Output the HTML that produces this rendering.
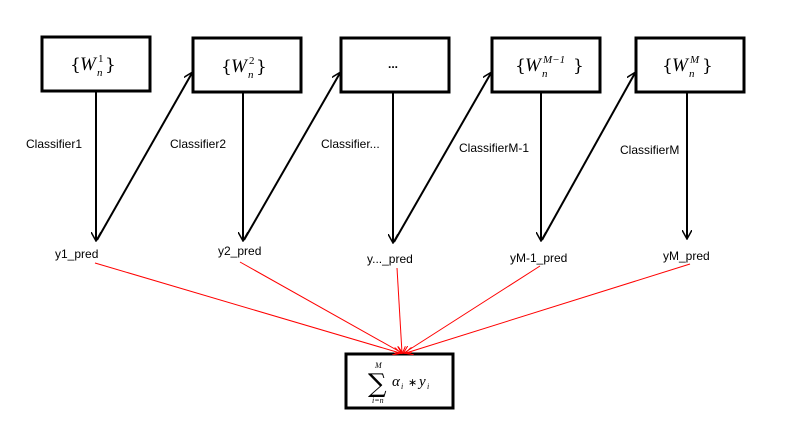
<!DOCTYPE html>
<html><head><style>
body{margin:0;background:#fff;width:809px;height:423px;overflow:hidden}
text{font-family:"Liberation Sans",sans-serif;font-size:12px;fill:#000}
.b{font-family:"DejaVu Serif",serif;font-size:17px}
.w{font-family:"Liberation Serif",serif;font-size:19px;font-style:italic}
.s{font-family:"Liberation Serif",serif;font-size:11px}
.si{font-family:"Liberation Serif",serif;font-size:11px;font-style:italic}
.sm{font-family:"Liberation Serif",serif;font-size:8px;font-style:italic}
.sg{font-family:"DejaVu Serif",serif;font-size:26px}
.al{font-family:"Liberation Serif",serif;font-size:15px;font-style:italic}
.st{font-family:"DejaVu Sans",sans-serif;font-size:11px}
</style></head><body>
<svg width="809" height="423" xmlns="http://www.w3.org/2000/svg">
<defs>
<marker id="a" markerWidth="10" markerHeight="10" refX="8" refY="5" orient="auto" markerUnits="userSpaceOnUse"><path d="M0,0 L9,5 L0,10" fill="none" stroke="#000" stroke-width="1.5"/></marker>
<marker id="r" markerWidth="8" markerHeight="8" refX="7" refY="4" orient="auto" markerUnits="userSpaceOnUse"><path d="M0,0 L8,4 L0,8" fill="none" stroke="#f00" stroke-width="1"/></marker>
</defs>
<g fill="#fff" stroke="#000" stroke-width="3">
<rect x="42" y="37" width="108" height="54"/>
<rect x="193" y="38" width="108" height="54"/>
<rect x="341" y="38" width="108" height="54"/>
<rect x="492" y="38" width="108" height="54"/>
<rect x="636" y="38" width="108" height="54"/>
<rect x="346" y="354" width="107" height="54"/>
</g>
<text class="b" x="70" y="70">{</text><text class="w" x="80" y="70">W</text>
<text class="s" x="98" y="62">1</text><text class="si" x="97" y="76">n</text>
<text class="b" x="105" y="70">}</text>
<text class="b" x="221" y="72">{</text><text class="w" x="231" y="72">W</text>
<text class="s" x="249" y="64">2</text><text class="si" x="248" y="78">n</text>
<text class="b" x="256" y="72">}</text>
<text x="388" y="68" font-weight="bold">...</text>
<text class="b" x="515" y="71">{</text><text class="w" x="525" y="71">W</text>
<text class="si" x="543" y="63">M−1</text><text class="si" x="542" y="77">n</text>
<text class="b" x="573" y="71">}</text>
<text class="b" x="662" y="71">{</text><text class="w" x="672" y="71">W</text>
<text class="si" x="690" y="63">M</text><text class="si" x="689" y="77">n</text>
<text class="b" x="702" y="71">}</text>
<g stroke="#000" stroke-width="2" marker-end="url(#a)">
<line x1="96" y1="91" x2="96" y2="240"/>
<line x1="97" y1="240" x2="192" y2="73"/>
<line x1="243" y1="92" x2="243" y2="240"/>
<line x1="244" y1="240" x2="340" y2="73"/>
<line x1="393" y1="92" x2="393" y2="242"/>
<line x1="394" y1="242" x2="491" y2="73"/>
<line x1="541" y1="92" x2="541" y2="240"/>
<line x1="542" y1="240" x2="635" y2="73"/>
<line x1="687" y1="92" x2="687" y2="238"/>
</g>
<text x="26" y="148">Classifier1</text>
<text x="170" y="148">Classifier2</text>
<text x="321" y="148">Classifier...</text>
<text x="459" y="152">ClassifierM-1</text>
<text x="620" y="154">ClassifierM</text>
<text x="55" y="258">y1_pred</text>
<text x="218" y="255">y2_pred</text>
<text x="367" y="263">y..._pred</text>
<text x="510" y="262">yM-1_pred</text>
<text x="663" y="260">yM_pred</text>
<g stroke="#f00" stroke-width="1" marker-end="url(#r)">
<line x1="95" y1="263" x2="400" y2="353"/>
<line x1="240" y1="262" x2="402" y2="353"/>
<line x1="397" y1="268" x2="402" y2="353"/>
<line x1="540" y1="266" x2="404" y2="353"/>
<line x1="690" y1="264" x2="406" y2="353"/>
</g>
<text class="sg" x="368" y="392">∑</text>
<text class="sm" x="375" y="368">M</text>
<text class="sm" x="372" y="403">i=n</text>
<text class="al" x="392" y="386">α</text>
<text class="sm" x="401" y="389">i</text>
<text class="st" x="408" y="386">∗</text>
<text class="al" x="419" y="386">y</text>
<text class="sm" x="427" y="389">i</text>
</svg>
</body></html>
